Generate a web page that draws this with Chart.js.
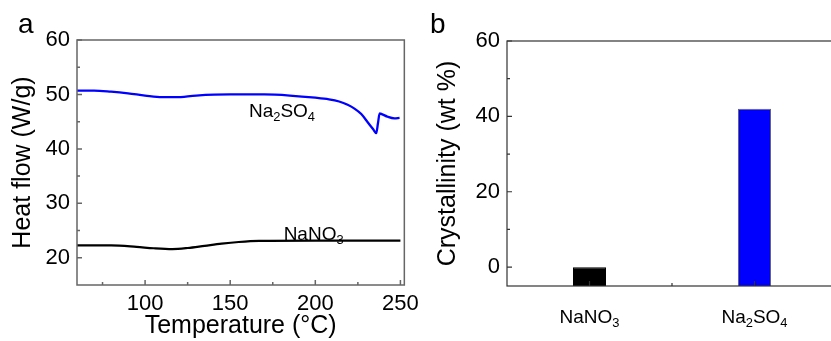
<!DOCTYPE html>
<html>
<head>
<meta charset="utf-8">
<script src="https://cdn.jsdelivr.net/npm/chart.js@4/dist/chart.umd.min.js"></script>
<style>
  html, body { margin: 0; padding: 0; background: #fff; overflow: hidden; }
  #wrap { position: relative; width: 831px; height: 341px; overflow: hidden; background: #fff; }
  #dscChart { position: absolute; left: 0; top: 0; z-index: 2; }
  #crystChart { position: absolute; left: 420px; top: 0; z-index: 1; }
</style>
</head>
<body>
<div id="wrap">
  <canvas id="dscChart" width="425" height="341"></canvas>
  <canvas id="crystChart" width="420" height="341"></canvas>
</div>
<script>
// Panel a: DSC curves, temperature (°C) vs heat flow (W/g)
const tempSulfate = [60, 70, 80, 90, 100, 110, 118, 130, 150, 170, 185, 200, 208, 214, 219, 223, 227, 231, 234, 235.8, 236.8, 237.8, 239, 242.5, 246.5, 249.5];
const heatSulfate = [50.7, 50.7, 50.5, 50.2, 49.8, 49.5, 49.5, 49.8, 50.0, 50.0, 49.8, 49.4, 49.1, 48.7, 48.1, 47.4, 46.4, 44.8, 43.6, 42.9, 44.7, 46.5, 46.4, 45.9, 45.6, 45.7];
const tempNitrate = [60, 80, 95, 105, 116, 125, 135, 145, 155, 167, 200, 250];
const heatNitrate = [22.26, 22.26, 22.0, 21.75, 21.6, 21.8, 22.2, 22.6, 22.9, 23.1, 23.15, 23.15];
const tempTicks = [100, 150, 200, 250];
const tempMinor = [75, 125, 175, 225];
const heatTicks = [20, 30, 40, 50, 60];
const heatMinor = [25, 35, 45, 55];

// curve labels, anchored in data units
const curveNotes = [
    { text: 'Na2SO4', x: 161, y: 45.9 },
    { text: 'NaNO3', x: 181.4, y: 23.3 }
];

// Panel b: crystallinity
const salts = ['NaNO3', 'Na2SO4'];
const crystallinity = [0, 42];
const crystTicks = [0, 20, 40, 60];
const crystMinor = [10, 30, 50];
const saltMinor = [0.5];

const FONT = "'Liberation Sans', Arial, sans-serif";

// draw a chemical formula with digits as subscripts
function drawFormula(ctx, text, x, y, size, align) {
    const parts = text.match(/\d+|\D+/g);
    const sub = size * 0.68;
    let w = 0;
    parts.forEach(p => {
        ctx.font = (/\d/.test(p) ? sub : size) + 'px ' + FONT;
        w += ctx.measureText(p).width;
    });
    let cx = align === 'center' ? x - w / 2 : x;
    ctx.textAlign = 'left';
    ctx.textBaseline = 'alphabetic';
    parts.forEach(p => {
        const isSub = /\d/.test(p);
        ctx.font = (isSub ? sub : size) + 'px ' + FONT;
        ctx.fillText(p, cx, isSub ? y + size * 0.22 : y);
        cx += ctx.measureText(p).width;
    });
}

// frame plus inward tick marks
const axisBox = {
    id: 'axisBox',
    afterDatasetsDraw(chart, args, o) {
        const { ctx, chartArea: a } = chart;
        const xs = chart.scales.x, ys = chart.scales.y;
        ctx.save();
        ctx.strokeStyle = o.color;
        ctx.lineWidth = o.width;
        ctx.strokeRect(a.left, a.top, a.right - a.left, a.bottom - a.top);
        ctx.beginPath();
        o.xMajor.forEach(v => { const p = xs.getPixelForValue(v); ctx.moveTo(p, a.bottom); ctx.lineTo(p, a.bottom - 5); });
        o.xMinor.forEach(v => { const p = xs.getPixelForValue(v); ctx.moveTo(p, a.bottom); ctx.lineTo(p, a.bottom - 3); });
        o.yMajor.forEach(v => { const p = ys.getPixelForValue(v); ctx.moveTo(a.left, p); ctx.lineTo(a.left + 5, p); });
        o.yMinor.forEach(v => { const p = ys.getPixelForValue(v); ctx.moveTo(a.left, p); ctx.lineTo(a.left + 3, p); });
        ctx.stroke();
        ctx.restore();
    }
};

// panel letter, curve labels and formula tick labels
const textBits = {
    id: 'textBits',
    afterDraw(chart, args, o) {
        const ctx = chart.ctx;
        const xs = chart.scales.x, ys = chart.scales.y;
        ctx.save();
        ctx.fillStyle = '#000';
        ctx.font = '28px ' + FONT;
        ctx.textAlign = 'left';
        ctx.textBaseline = 'alphabetic';
        ctx.fillText(o.letter, o.letterX, 33);
        (o.notes || []).forEach(n => {
            drawFormula(ctx, n.text, xs.getPixelForValue(n.x), ys.getPixelForValue(n.y), 19, 'left');
        });
        if (o.categoryY) {
            xs.getLabels().forEach((lab, i) => {
                drawFormula(ctx, lab, xs.getPixelForValue(i), o.categoryY, 19, 'center');
            });
        }
        ctx.restore();
    }
};

const tickFont = { family: FONT, size: 22 };
const titleFont = { family: FONT, size: 25 };

new Chart(document.getElementById('dscChart').getContext('2d'), {
    type: 'line',
    data: {
        datasets: [
            {
                data: tempSulfate.map((t, i) => ({ x: t, y: heatSulfate[i] })),
                borderColor: '#0000ff',
                borderWidth: 2.3,
                pointRadius: 0,
                cubicInterpolationMode: 'monotone',
                fill: false
            },
            {
                data: tempNitrate.map((t, i) => ({ x: t, y: heatNitrate[i] })),
                borderColor: '#000000',
                borderWidth: 2.2,
                pointRadius: 0,
                cubicInterpolationMode: 'monotone',
                fill: false
            }
        ]
    },
    options: {
        responsive: false,
        animation: false,
        layout: { padding: { top: 40, right: 19, left: 0, bottom: 0 } },
        plugins: {
            legend: { display: false },
            tooltip: { enabled: false },
            axisBox: { color: '#666', width: 1.5, xMajor: tempTicks, xMinor: tempMinor, yMajor: heatTicks, yMinor: heatMinor },
            textBits: { letter: 'a', letterX: 18, notes: curveNotes }
        },
        scales: {
            x: {
                type: 'linear',
                min: 60,
                max: 252.3,
                grid: { display: false, drawTicks: false },
                border: { display: false },
                ticks: { font: tickFont, color: '#000', padding: 6, maxRotation: 0, autoSkip: false },
                afterBuildTicks: s => { s.ticks = tempTicks.map(v => ({ value: v })); },
                afterFit: s => { s.height = 56; },
                title: { display: true, text: 'Temperature (°C)', font: titleFont, color: '#000', padding: { top: 0, bottom: 0 } }
            },
            y: {
                min: 15,
                max: 60,
                grid: { display: false, drawTicks: false },
                border: { display: false },
                ticks: { font: tickFont, color: '#000', padding: 7 },
                afterBuildTicks: s => { s.ticks = heatTicks.map(v => ({ value: v })); },
                afterFit: s => { s.width = 77; },
                title: { display: true, text: 'Heat flow (W/g)', font: titleFont, color: '#000', padding: { top: 8, bottom: 0 } }
            }
        }
    },
    plugins: [axisBox, textBits]
});

new Chart(document.getElementById('crystChart').getContext('2d'), {
    type: 'bar',
    data: {
        labels: salts,
        datasets: [{
            data: crystallinity,
            base: -5,
            backgroundColor: ['#000000', '#0000ff'],
            borderColor: ['#000000', '#666666'],
            borderWidth: 1,
            categoryPercentage: 1,
            barPercentage: 0.2
        }]
    },
    options: {
        responsive: false,
        animation: false,
        layout: { padding: { top: 41, right: 3, left: 0, bottom: 0 } },
        plugins: {
            legend: { display: false },
            tooltip: { enabled: false },
            axisBox: { color: '#333', width: 1.2, xMajor: [0, 1], xMinor: saltMinor, yMajor: crystTicks, yMinor: crystMinor },
            textBits: { letter: 'b', letterX: 10, categoryY: 323 }
        },
        scales: {
            x: {
                grid: { display: false, drawTicks: false },
                border: { display: false },
                ticks: { display: false },
                afterFit: s => { s.height = 55; }
            },
            y: {
                min: -5,
                max: 60,
                grid: { display: false, drawTicks: false },
                border: { display: false },
                ticks: { font: tickFont, color: '#000', padding: 7 },
                afterBuildTicks: s => { s.ticks = crystTicks.map(v => ({ value: v })); },
                afterFit: s => { s.width = 87; },
                title: { display: true, text: 'Crystallinity (wt %)', font: titleFont, color: '#000', padding: { top: 13, bottom: 0 } }
            }
        }
    },
    plugins: [axisBox, textBits]
});
</script>
</body>
</html>
